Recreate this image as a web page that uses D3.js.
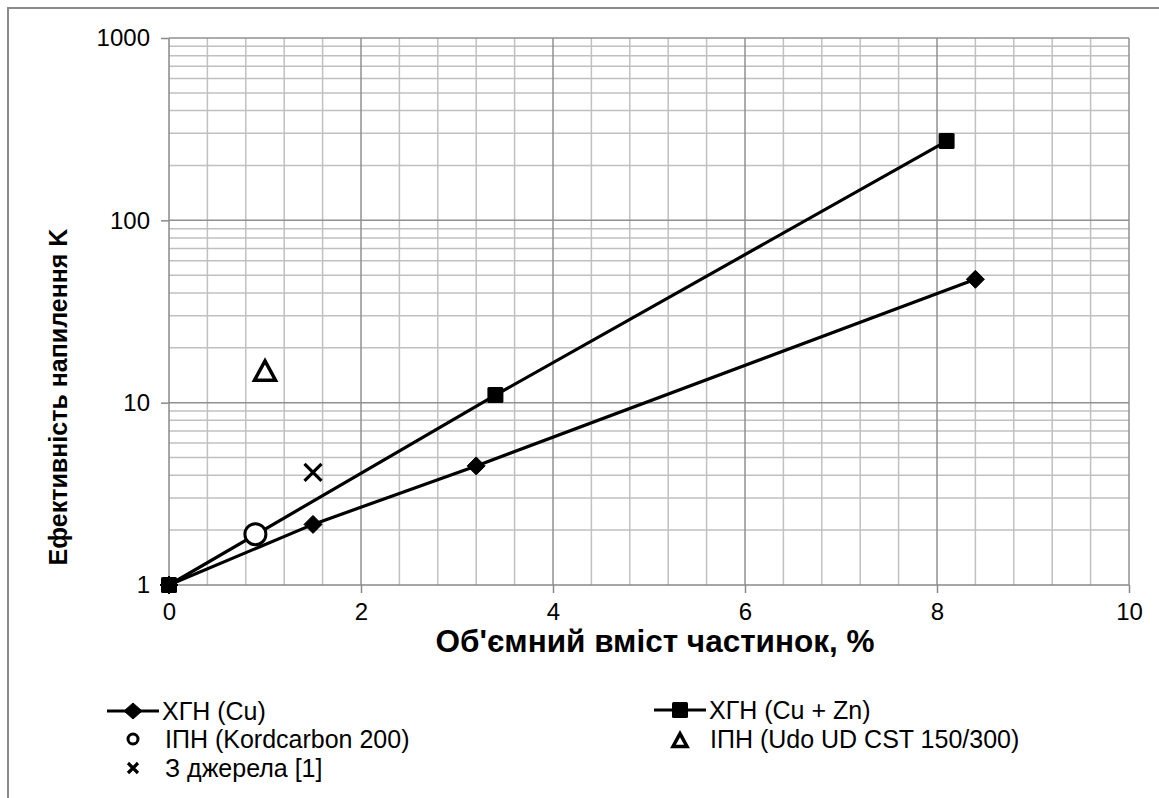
<!DOCTYPE html>
<html><head><meta charset="utf-8">
<script src="https://cdn.jsdelivr.net/npm/d3@7/dist/d3.min.js"></script>
<style>
body{margin:0;background:#fff;}
svg{display:block;font-family:"Liberation Sans",Arial,sans-serif;}
</style></head>
<body>
<svg id="c" width="1159" height="798"></svg>
<script>
// Data
const cuX = [0, 1.5, 3.2, 8.4];
const cuY = [1, 2.15, 4.5, 47.5];
const cuZnX = [0, 3.4, 8.1];
const cuZnY = [1, 11, 272];
const kordX = [0.9];
const kordY = [1.9];
const udoX = [1.0];
const udoY = [15];
const srcX = [1.5];
const srcY = [4.15];
const xTicks = [0, 2, 4, 6, 8, 10];
const yTicks = [1, 10, 100, 1000];
const legendLabels = ["ХГН (Cu)", "ХГН (Cu + Zn)", "ІПН (Kordcarbon 200)", "ІПН (Udo UD CST 150/300)", "З джерела [1]"];
const xTitle = "Об'ємний вміст частинок, %";
const yTitle = "Ефективність напилення K";

const svg = d3.select("#c");
const L = 169, R = 1129, T = 38, B = 585;
const x = d3.scaleLinear().domain([0, 10]).range([L, R]);
const y = d3.scaleLog().domain([1, 1000]).range([B, T]);

// outer border
svg.append("path").attr("d", "M8,800 L8,8 L1162,8").attr("fill","none").attr("stroke","#8a8a8a").attr("stroke-width",2);

// minor grid
const minorX = d3.range(0, 10.001, 0.4).filter(v => Math.abs(v/2 - Math.round(v/2)) > 1e-6);
const minorY = [];
[1,10,100].forEach(d => { for (let k=2;k<=9;k++) minorY.push(d*k); });
const g = svg.append("g");
g.selectAll(".mx").data(minorX).enter().append("line")
  .attr("x1", d=>x(d)).attr("x2", d=>x(d)).attr("y1", T).attr("y2", B)
  .attr("stroke", "#c0c0c0").attr("stroke-width", 1.5);
g.selectAll(".my").data(minorY).enter().append("line")
  .attr("y1", d=>y(d)).attr("y2", d=>y(d)).attr("x1", L).attr("x2", R)
  .attr("stroke", "#c0c0c0").attr("stroke-width", 1.5);
// major grid
g.selectAll(".Mx").data(xTicks.slice(1)).enter().append("line")
  .attr("x1", d=>x(d)).attr("x2", d=>x(d)).attr("y1", T).attr("y2", B)
  .attr("stroke", "#909090").attr("stroke-width", 1.5);
g.selectAll(".My").data(yTicks.slice(1)).enter().append("line")
  .attr("y1", d=>y(d)).attr("y2", d=>y(d)).attr("x1", L).attr("x2", R)
  .attr("stroke", "#909090").attr("stroke-width", 1.5);

// axes
const xAxis = d3.axisBottom(x).tickValues(xTicks).tickSize(8).tickPadding(10).tickFormat(d3.format("d"));
const yAxis = d3.axisLeft(y).tickValues(yTicks).tickSize(8).tickPadding(11).tickFormat(d3.format("d"));
const ax = svg.append("g").attr("transform", `translate(0,${B})`).call(xAxis);
const ay = svg.append("g").attr("transform", `translate(${L},0)`).call(yAxis);
[ax, ay].forEach(a => {
  a.select(".domain").attr("stroke", "#888").attr("stroke-width", 1.5);
  a.selectAll(".tick line").attr("stroke", "#888").attr("stroke-width", 1.5);
  a.selectAll(".tick text").attr("fill", "#000").style("font-size", "24px").style("font-family", "Liberation Sans, Arial, sans-serif");
});
ax.select(".domain").attr("d", `M${L},0H${R}`);
ay.select(".domain").attr("d", `M0,${B}V${T}`);

// titles
svg.append("text").attr("x", 655).attr("y", 652).attr("text-anchor", "middle")
  .style("font-size", "31.5px").style("font-weight", "bold").text(xTitle);
svg.append("text").attr("transform", "translate(67,397) rotate(-90)").attr("text-anchor", "middle")
  .style("font-size", "25px").style("font-weight", "bold").text(yTitle);

// lines
const line = d3.line().x(d=>x(d[0])).y(d=>y(d[1]));
const cu = cuX.map((v,i)=>[v, cuY[i]]);
const cuZn = cuZnX.map((v,i)=>[v, cuZnY[i]]);
svg.append("path").datum(cuZn).attr("d", line).attr("fill","none").attr("stroke","#000").attr("stroke-width",3.2);
svg.append("path").datum(cu).attr("d", line).attr("fill","none").attr("stroke","#000").attr("stroke-width",3.2);

function drawDiamond(sel, cx, cy, sx, sy){
  sel.append("path").attr("d", `M0,${-sy}L${sx},0L0,${sy}L${-sx},0Z`).attr("transform", `translate(${cx},${cy})`).attr("fill","#000").attr("stroke","#000").attr("stroke-width",1).attr("stroke-linejoin","round");
}
function drawSquare(sel, cx, cy, s){
  sel.append("rect").attr("x", cx-s).attr("y", cy-s).attr("width",2*s).attr("height",2*s).attr("rx",1.5).attr("fill","#000");
}
function drawCircle(sel, cx, cy, r){
  sel.append("circle").attr("cx",cx).attr("cy",cy).attr("r",r).attr("fill","#fff").attr("stroke","#000").attr("stroke-width",3);
}
function drawTri(sel, cx, cy, s){
  const h = s*0.92;
  sel.append("path").attr("d", `M${cx},${cy-h/2}L${cx+s/2},${cy+h/2}L${cx-s/2},${cy+h/2}Z`)
    .attr("fill","#fff").attr("stroke","#000").attr("stroke-width",3.5).attr("stroke-linejoin","miter");
}
function drawCross(sel, cx, cy, s){
  sel.append("path").attr("d", `M${cx-s},${cy-s}L${cx+s},${cy+s}M${cx-s},${cy+s}L${cx+s},${cy-s}`)
    .attr("stroke","#000").attr("stroke-width",3.2);
}
const m = svg.append("g");
cuZn.forEach(d => drawSquare(m, x(d[0]), y(d[1]), 8));
cu.forEach(d => drawDiamond(m, x(d[0]), y(d[1]), 9, 9));
kordX.forEach((v,i) => drawCircle(m, x(v), y(kordY[i]), 10.5));
udoX.forEach((v,i) => drawTri(m, x(v), y(udoY[i]), 21));
srcX.forEach((v,i) => drawCross(m, x(v), y(srcY[i]), 8.5));

// legend
const lg = svg.append("g").style("font-size", "25px");
function legLine(cx, cy){
  lg.append("line").attr("x1", cx-26).attr("x2", cx+26).attr("y1", cy).attr("y2", cy).attr("stroke","#000").attr("stroke-width",3.2);
}
legLine(133, 711); drawDiamond(lg, 133, 711, 9, 8);
lg.append("text").attr("x", 162).attr("y", 720).text(legendLabels[0]);
legLine(680, 710); drawSquare(lg, 680, 710, 8);
lg.append("text").attr("x", 709).attr("y", 719).text(legendLabels[1]);
drawCircle(lg, 133, 739, 5);
lg.append("text").attr("x", 165).attr("y", 748).text(legendLabels[2]);
drawTri(lg, 680, 740, 14);
lg.append("text").attr("x", 710).attr("y", 748).text(legendLabels[3]);
drawCross(lg, 133, 768, 5);
lg.append("text").attr("x", 165).attr("y", 777).text(legendLabels[4]);
</script>
</body></html>
